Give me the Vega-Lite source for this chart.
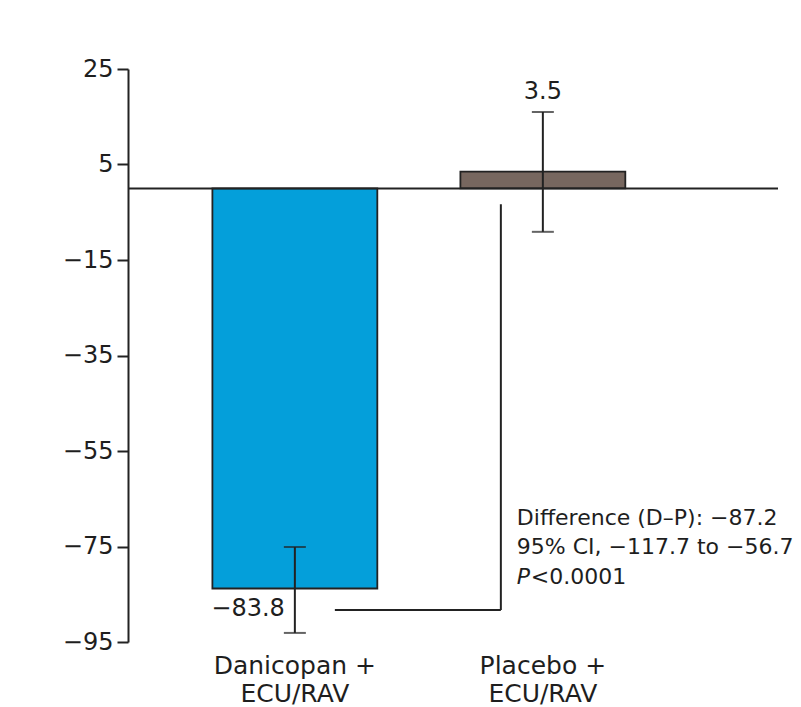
{
  "$schema": "https://vega.github.io/schema/vega-lite/v6.json",
  "width": 650,
  "height": 573,
  "autosize": {"type": "none"},
  "padding": {"left": 128, "top": 69, "right": 23, "bottom": 65},
  "background": "white",
  "config": {
    "view": {"stroke": null},
    "font": "DejaVu Sans",
    "text": {"font": "DejaVu Sans", "color": "#1e1e1e"},
    "axis": {"labelFont": "DejaVu Sans", "labelColor": "#1e1e1e", "grid": false, "title": null}
  },
  "datasets": {
    "groups": [
      {"group": "Danicopan +|ECU/RAV", "mean": -83.8, "lo": -93.1, "hi": -75.1, "label": "−83.8"},
      {"group": "Placebo +|ECU/RAV", "mean": 3.5, "lo": -9.1, "hi": 16.0, "label": "3.5"}
    ],
    "bracket": [
      {"from": "Danicopan +|ECU/RAV", "to": "Placebo +|ECU/RAV", "low": -88.3, "high": -3.3}
    ],
    "notes": [
      {"group": "Placebo +|ECU/RAV", "line": "Difference (D–P): −87.2", "y": -69.0},
      {"group": "Placebo +|ECU/RAV", "line": "95% CI, −117.7 to −56.7", "y": -75.1}
    ],
    "pnote": [
      {"group": "Placebo +|ECU/RAV", "p": "P", "rest": "<0.0001", "y": -81.3}
    ]
  },
  "encoding": {
    "x": {
      "field": "group",
      "type": "nominal",
      "sort": null,
      "scale": {
        "domain": ["Danicopan +|ECU/RAV", "Placebo +|ECU/RAV"],
        "paddingInner": 0.335,
        "paddingOuter": 0.478,
        "align": 0.356
      },
      "axis": {
        "domain": false,
        "ticks": false,
        "labelAngle": 0,
        "labelFontSize": 25,
        "labelLineHeight": 28,
        "labelPadding": 11,
        "labelExpr": "split(datum.label, '|')"
      }
    }
  },
  "layer": [
    {
      "data": {"name": "groups"},
      "mark": {"type": "bar", "stroke": "#222222", "strokeWidth": 1.8},
      "encoding": {
        "y": {
          "field": "mean",
          "type": "quantitative",
          "scale": {"domain": [-95, 25], "nice": false, "zero": false},
          "axis": {
            "values": [25, 5, -15, -35, -55, -75, -95],
            "domainColor": "#222222",
            "domainWidth": 2,
            "tickColor": "#222222",
            "tickWidth": 2,
            "tickSize": 11,
            "labelFontSize": 24,
            "labelPadding": 4
          }
        },
        "y2": {"datum": 0},
        "color": {
          "field": "group",
          "type": "nominal",
          "scale": {"domain": ["Danicopan +|ECU/RAV", "Placebo +|ECU/RAV"], "range": ["#049fda", "#77675f"]},
          "legend": null
        }
      }
    },
    {
      "data": {"values": [{}]},
      "mark": {"type": "rule", "color": "#222222", "strokeWidth": 2},
      "encoding": {"y": {"datum": 0}, "x": null}
    },
    {
      "data": {"name": "groups"},
      "mark": {"type": "rule", "color": "#222222", "strokeWidth": 2},
      "encoding": {
        "y": {"field": "lo", "type": "quantitative"},
        "y2": {"field": "hi"}
      }
    },
    {
      "data": {"name": "groups"},
      "mark": {"type": "tick", "color": "#222222", "thickness": 2, "size": 22, "orient": "horizontal"},
      "encoding": {"y": {"field": "lo", "type": "quantitative"}}
    },
    {
      "data": {"name": "groups"},
      "mark": {"type": "tick", "color": "#222222", "thickness": 2, "size": 22, "orient": "horizontal"},
      "encoding": {"y": {"field": "hi", "type": "quantitative"}}
    },
    {
      "data": {"name": "groups"},
      "transform": [{"filter": "datum.mean < 0"}],
      "mark": {"type": "text", "fontSize": 24, "align": "right", "baseline": "top", "xOffset": -10, "dy": 8},
      "encoding": {
        "y": {"field": "mean", "type": "quantitative"},
        "text": {"field": "label"}
      }
    },
    {
      "data": {"name": "groups"},
      "transform": [{"filter": "datum.mean > 0"}],
      "mark": {"type": "text", "fontSize": 24, "align": "center", "baseline": "bottom", "dy": -8},
      "encoding": {
        "y": {"field": "hi", "type": "quantitative"},
        "text": {"field": "label"}
      }
    },
    {
      "data": {"name": "bracket"},
      "mark": {"type": "rule", "color": "#222222", "strokeWidth": 2, "xOffset": 40, "x2Offset": -42},
      "encoding": {
        "x": {"field": "from", "type": "nominal"},
        "x2": {"field": "to"},
        "y": {"field": "low", "type": "quantitative"}
      }
    },
    {
      "data": {"name": "bracket"},
      "mark": {"type": "rule", "color": "#222222", "strokeWidth": 2, "xOffset": -42},
      "encoding": {
        "x": {"field": "to", "type": "nominal"},
        "y": {"field": "high", "type": "quantitative"},
        "y2": {"field": "low"}
      }
    },
    {
      "data": {"name": "notes"},
      "mark": {"type": "text", "fontSize": 22, "align": "left", "baseline": "middle", "xOffset": -26},
      "encoding": {
        "y": {"field": "y", "type": "quantitative"},
        "text": {"field": "line"}
      }
    },
    {
      "data": {"name": "pnote"},
      "mark": {"type": "text", "fontSize": 22, "fontStyle": "italic", "align": "left", "baseline": "middle", "xOffset": -26},
      "encoding": {
        "y": {"field": "y", "type": "quantitative"},
        "text": {"field": "p"}
      }
    },
    {
      "data": {"name": "pnote"},
      "mark": {"type": "text", "fontSize": 22, "align": "left", "baseline": "middle", "xOffset": -12},
      "encoding": {
        "y": {"field": "y", "type": "quantitative"},
        "text": {"field": "rest"}
      }
    }
  ]
}
